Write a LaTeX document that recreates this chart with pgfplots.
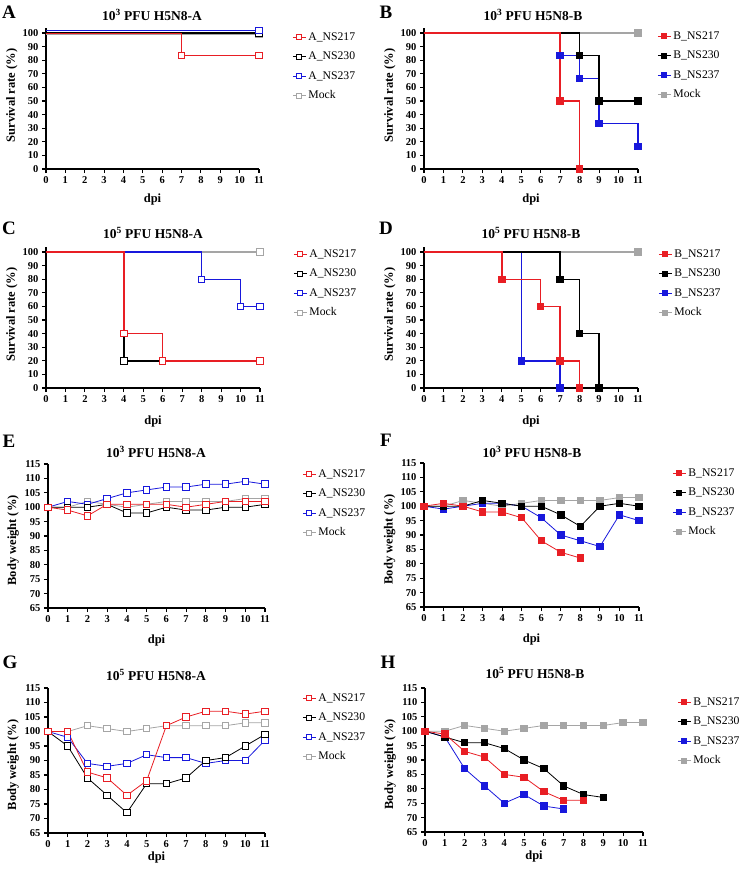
\documentclass[border=0pt]{standalone}
\usepackage{pgfplots}
\pgfplotsset{compat=1.18}
\usepackage{fontspec}
\setmainfont{Liberation Serif}
\definecolor{cR}{RGB}{232,30,36}
\definecolor{cB}{RGB}{24,24,220}
\definecolor{cG}{RGB}{165,165,165}
\pgfplotsset{
  aS/.style={color=#1, line width=1.1pt, mark=square*, mark size=3.2pt, mark options={solid, fill=white, line width=1pt}},
  bS/.style={color=#1, line width=1.1pt, mark=square*, mark size=3.2pt, mark options={solid, fill=#1, line width=1pt}},
  sl/.style={color=#1, line width=1.4pt, const plot, no marks, forget plot},
  aM/.style={aS=#1, only marks, forget plot},
  bM/.style={bS=#1, only marks, forget plot},
  aW/.style={aS=#1, line width=0.8pt, forget plot},
  bW/.style={bS=#1, line width=0.8pt, forget plot},
  base/.style={scale only axis, axis lines*=left, xmin=0, xmax=11, xtick={0,...,11}, clip=false,
    axis line style={line width=1.3pt, black}, tick style={line width=1.1pt, black},
    tick align=outside, major tick length=4pt,
    ticklabel style={font=\fontsize{10.5}{12}\selectfont\bfseries},
    /pgf/number format/assume math mode=true,
    xlabel={dpi}, label style={font=\fontsize{12.5}{14}\selectfont\bfseries},
    xlabel style={at={(axis description cs:0.5,0)}, anchor=center},
    legend cell align=left,
    legend image code/.code={\draw[mark repeat=2,mark phase=2,mark size=2.4pt] plot coordinates {(0cm,0cm)(0.23cm,0cm)(0.46cm,0cm)};},
    legend style={draw=none, fill=none, at={(1,1)}, anchor=north west,
      font=\fontsize{11.7}{13}\selectfont, inner sep=0pt, row sep=7.5pt,
      nodes={inner sep=1pt, text height=8pt, text depth=2pt},
      /tikz/every odd column/.append style={column sep=1pt}},
  },
  surv/.style={base, ymin=0, ymax=104, ytick={0,10,...,100}, height=141.4pt,
    ylabel={Survival rate (\%)}, ylabel style={at={(axis description cs:-0.16,0.52)}, anchor=center}},
  wt/.style={base, ymin=65, ymax=115, ytick={65,70,...,115}, height=144pt,
    ylabel={Body weight (\%)}, ylabel style={at={(axis description cs:-0.16,0.47)}, anchor=center}},
}
\begin{document}
\begin{tikzpicture}
\useasboundingbox (0,0) rectangle (750pt,-871pt);

% ---------------- A ----------------
\begin{axis}[surv, at={(46pt,-169pt)}, anchor=south west, width=213pt,
  legend style={xshift=33pt, yshift=-3.4pt}, xlabel style={yshift=-30pt}]
\addlegendimage{aS=cR}\addlegendentry{A\_NS217}
\addlegendimage{aS=black}\addlegendentry{A\_NS230}
\addlegendimage{aS=cB}\addlegendentry{A\_NS237}
\addlegendimage{aS=cG}\addlegendentry{Mock}
\addplot[sl=cG] coordinates {(0,99)(11,99)};
\addplot[aM=cG] coordinates {(11,99)};
\addplot[sl=black] coordinates {(0,100)(11,100)};
\addplot[aM=black] coordinates {(11,100)};
\addplot[sl=cB] coordinates {(0,101.7)(11,101.7)};
\addplot[aM=cB] coordinates {(11,101.7)};
\addplot[sl=cR] coordinates {(0,99.5)(7,83.3)(11,83.3)};
\addplot[aM=cR] coordinates {(7,83.3)(11,83.3)};
\end{axis}

% ---------------- B ----------------
\begin{axis}[surv, at={(424pt,-169pt)}, anchor=south west, width=214pt,
  legend style={xshift=19pt, yshift=-2.4pt}, xlabel style={yshift=-30pt}]
\addlegendimage{bS=cR}\addlegendentry{B\_NS217}
\addlegendimage{bS=black}\addlegendentry{B\_NS230}
\addlegendimage{bS=cB}\addlegendentry{B\_NS237}
\addlegendimage{bS=cG}\addlegendentry{Mock}
\addplot[sl=cG] coordinates {(0,100)(11,100)};
\addplot[bM=cG] coordinates {(11,100)};
\addplot[sl=cB] coordinates {(0,100)(7,83.3)(8,66.7)(9,33.3)(11,16.7)};
\addplot[bM=cB] coordinates {(7,83.3)(8,66.7)(9,33.3)(11,16.7)};
\addplot[sl=black] coordinates {(0,100)(8,83.3)(9,50)(11,50)};
\addplot[bM=black] coordinates {(8,83.3)(9,50)(11,50)};
\addplot[sl=cR] coordinates {(0,100)(7,50)(8,0)};
\addplot[bM=cR] coordinates {(7,50)(8,0)};
\end{axis}

% ---------------- C ----------------
\begin{axis}[surv, at={(46pt,-388pt)}, anchor=south west, width=214pt,
  legend style={xshift=33pt, yshift=-1.4pt}, xlabel style={yshift=-33pt}]
\addlegendimage{aS=cR}\addlegendentry{A\_NS217}
\addlegendimage{aS=black}\addlegendentry{A\_NS230}
\addlegendimage{aS=cB}\addlegendentry{A\_NS237}
\addlegendimage{aS=cG}\addlegendentry{Mock}
\addplot[sl=cG] coordinates {(0,100)(11,100)};
\addplot[aM=cG] coordinates {(11,100)};
\addplot[sl=cB] coordinates {(0,100)(8,80)(10,60)(11,60)};
\addplot[aM=cB] coordinates {(8,80)(10,60)(11,60)};
\addplot[sl=black] coordinates {(0,100)(4,20)(6,20)};
\addplot[aM=black] coordinates {(4,20)};
\addplot[sl=cR] coordinates {(0,100)(4,40)(6,20)(11,20)};
\addplot[aM=cR] coordinates {(4,40)(6,20)(11,20)};
\end{axis}

% ---------------- D ----------------
\begin{axis}[surv, at={(424pt,-388pt)}, anchor=south west, width=214pt,
  legend style={xshift=20pt, yshift=-1.4pt}, xlabel style={yshift=-33pt}]
\addlegendimage{bS=cR}\addlegendentry{B\_NS217}
\addlegendimage{bS=black}\addlegendentry{B\_NS230}
\addlegendimage{bS=cB}\addlegendentry{B\_NS237}
\addlegendimage{bS=cG}\addlegendentry{Mock}
\addplot[sl=cG] coordinates {(0,100)(11,100)};
\addplot[bM=cG] coordinates {(11,100)};
\addplot[sl=cB] coordinates {(0,100)(5,20)(7,0)};
\addplot[bM=cB] coordinates {(5,20)(7,0)};
\addplot[sl=black] coordinates {(0,100)(7,80)(8,40)(9,0)};
\addplot[bM=black] coordinates {(7,80)(8,40)(9,0)};
\addplot[sl=cR] coordinates {(0,100)(4,80)(6,60)(7,20)(8,0)};
\addplot[bM=cR] coordinates {(4,80)(6,60)(7,20)(8,0)};
\end{axis}

% ---------------- E ----------------
\begin{axis}[wt, at={(48pt,-608pt)}, anchor=south west, width=217pt,
  legend style={xshift=37pt, yshift=-4pt}, xlabel style={yshift=-32pt}]
\addlegendimage{aS=cR}\addlegendentry{A\_NS217}
\addlegendimage{aS=black}\addlegendentry{A\_NS230}
\addlegendimage{aS=cB}\addlegendentry{A\_NS237}
\addlegendimage{aS=cG}\addlegendentry{Mock}
\addplot[aW=cG] coordinates {(0,100)(1,100)(2,102)(3,101)(4,100)(5,101)(6,102)(7,102)(8,102)(9,102)(10,103)(11,103)};
\addplot[aW=cB] coordinates {(0,100)(1,102)(2,101)(3,103)(4,105)(5,106)(6,107)(7,107)(8,108)(9,108)(10,109)(11,108)};
\addplot[aW=black] coordinates {(0,100)(1,100)(2,100)(3,101)(4,98)(5,98)(6,100)(7,99)(8,99)(9,100)(10,100)(11,101)};
\addplot[aW=cR] coordinates {(0,100)(1,99)(2,97)(3,101)(4,101)(5,101)(6,101)(7,100)(8,101)(9,102)(10,102)(11,102)};
\end{axis}

% ---------------- F ----------------
\begin{axis}[wt, at={(424pt,-607pt)}, anchor=south west, width=215pt,
  legend style={xshift=33pt, yshift=-4pt}, xlabel style={yshift=-32pt}]
\addlegendimage{bS=cR}\addlegendentry{B\_NS217}
\addlegendimage{bS=black}\addlegendentry{B\_NS230}
\addlegendimage{bS=cB}\addlegendentry{B\_NS237}
\addlegendimage{bS=cG}\addlegendentry{Mock}
\addplot[bW=cG] coordinates {(0,100)(1,100)(2,102)(3,101)(4,100)(5,101)(6,102)(7,102)(8,102)(9,102)(10,103)(11,103)};
\addplot[bW=cB] coordinates {(0,100)(1,99)(2,100)(3,101)(4,101)(5,100)(6,96)(7,90)(8,88)(9,86)(10,97)(11,95)};
\addplot[bW=black] coordinates {(0,100)(1,100)(2,100)(3,102)(4,101)(5,100)(6,100)(7,97)(8,93)(9,100)(10,101)(11,100)};
\addplot[bW=cR] coordinates {(0,100)(1,101)(2,100)(3,98)(4,98)(5,96)(6,88)(7,84)(8,82)};
\end{axis}

% ---------------- G ----------------
\begin{axis}[wt, at={(48pt,-833pt)}, anchor=south west, width=217pt, height=145pt,
  legend style={xshift=37pt, yshift=-4pt}, xlabel style={yshift=-24pt}]
\addlegendimage{aS=cR}\addlegendentry{A\_NS217}
\addlegendimage{aS=black}\addlegendentry{A\_NS230}
\addlegendimage{aS=cB}\addlegendentry{A\_NS237}
\addlegendimage{aS=cG}\addlegendentry{Mock}
\addplot[aW=cG] coordinates {(0,100)(1,100)(2,102)(3,101)(4,100)(5,101)(6,102)(7,102)(8,102)(9,102)(10,103)(11,103)};
\addplot[aW=cB] coordinates {(0,100)(1,98)(2,89)(3,88)(4,89)(5,92)(6,91)(7,91)(8,89)(9,90)(10,90)(11,97)};
\addplot[aW=black] coordinates {(0,100)(1,95)(2,84)(3,78)(4,72)(5,82)(6,82)(7,84)(8,90)(9,91)(10,95)(11,99)};
\addplot[aW=cR] coordinates {(0,100)(1,100)(2,86)(3,84)(4,78)(5,83)(6,102)(7,105)(8,107)(9,107)(10,106)(11,107)};
\end{axis}

% ---------------- H ----------------
\begin{axis}[wt, at={(425pt,-832pt)}, anchor=south west, width=218pt,
  legend style={xshift=34pt, yshift=-8pt}, xlabel style={yshift=-24pt}]
\addlegendimage{bS=cR}\addlegendentry{B\_NS217}
\addlegendimage{bS=black}\addlegendentry{B\_NS230}
\addlegendimage{bS=cB}\addlegendentry{B\_NS237}
\addlegendimage{bS=cG}\addlegendentry{Mock}
\addplot[bW=cG] coordinates {(0,100)(1,100)(2,102)(3,101)(4,100)(5,101)(6,102)(7,102)(8,102)(9,102)(10,103)(11,103)};
\addplot[bW=cB] coordinates {(0,100)(1,98)(2,87)(3,81)(4,75)(5,78)(6,74)(7,73)};
\addplot[bW=black] coordinates {(0,100)(1,98)(2,96)(3,96)(4,94)(5,90)(6,87)(7,81)(8,78)(9,77)};
\addplot[bW=cR] coordinates {(0,100)(1,99)(2,93)(3,91)(4,85)(5,84)(6,79)(7,76)(8,76)};
\end{axis}

% titles and panel letters
\tikzset{ttl/.style={font=\fontsize{13.5}{15}\selectfont\bfseries}, plab/.style={font=\fontsize{19}{21}\selectfont\bfseries}}
\node[ttl] at (152pt,-15pt) {10\textsuperscript{3} PFU H5N8-A};
\node[ttl] at (533pt,-15pt) {10\textsuperscript{3} PFU H5N8-B};
\node[ttl] at (153pt,-233pt) {10\textsuperscript{5} PFU H5N8-A};
\node[ttl] at (531pt,-233pt) {10\textsuperscript{5} PFU H5N8-B};
\node[ttl] at (156pt,-452pt) {10\textsuperscript{3} PFU H5N8-A};
\node[ttl] at (532pt,-452pt) {10\textsuperscript{3} PFU H5N8-B};
\node[ttl] at (156pt,-675pt) {10\textsuperscript{5} PFU H5N8-A};
\node[ttl] at (535pt,-673pt) {10\textsuperscript{5} PFU H5N8-B};
\node[plab] at (9pt,-12pt) {A};
\node[plab] at (386pt,-12pt) {B};
\node[plab] at (9pt,-228pt) {C};
\node[plab] at (386pt,-228pt) {D};
\node[plab] at (9pt,-441pt) {E};
\node[plab] at (386pt,-440pt) {F};
\node[plab] at (10pt,-662pt) {G};
\node[plab] at (388pt,-662pt) {H};
\end{tikzpicture}
\end{document}
